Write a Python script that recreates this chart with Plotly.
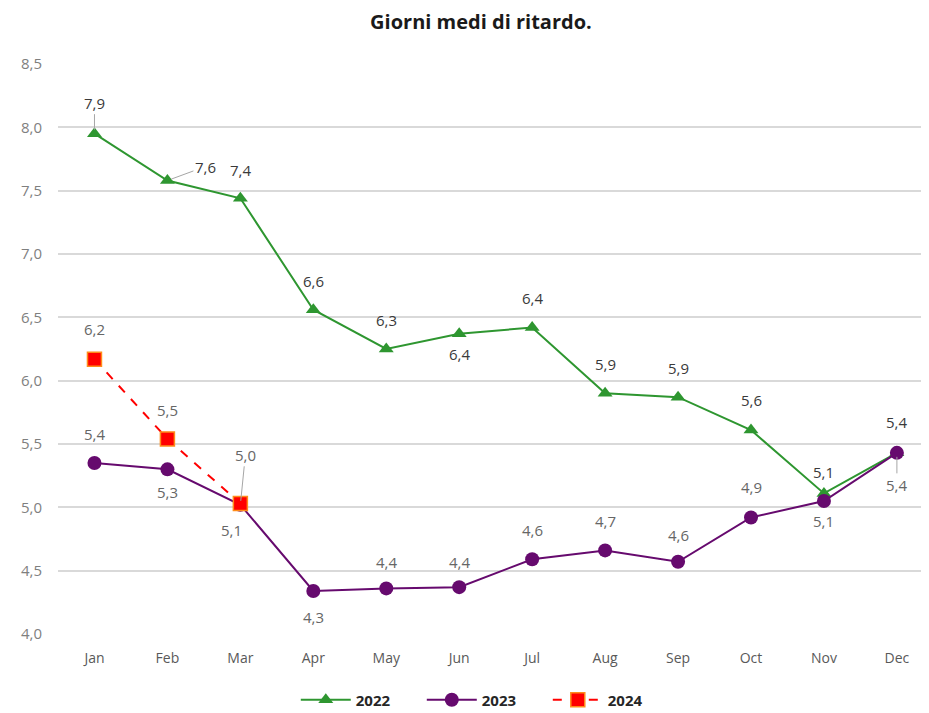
import plotly.graph_objects as go

months = ["Jan", "Feb", "Mar", "Apr", "May", "Jun", "Jul", "Aug", "Sep", "Oct", "Nov", "Dec"]
v2022 = [7.95, 7.58, 7.44, 6.56, 6.25, 6.37, 6.42, 5.90, 5.87, 5.61, 5.11, 5.43]
v2023 = [5.35, 5.30, 5.02, 4.34, 4.36, 4.37, 4.59, 4.66, 4.57, 4.92, 5.05, 5.43]
v2024 = [6.17, 5.54, 5.03]
lab2022 = ["7,9", "7,6", "7,4", "6,6", "6,3", "6,4", "6,4", "5,9", "5,9", "5,6", "5,1", "5,4"]
lab2023 = ["5,4", "5,3", "5,0", "4,3", "4,4", "4,4", "4,6", "4,7", "4,6", "4,9", "5,1", "5,4"]
lab2024 = ["6,2", "5,5", "5,1"]

# label placement (style): (xshift px, yshift px, leader line)
pos2022 = [(0, 31, True), (38, 14, True), (0, 28, False), (0, 29, False), (0, 29, False), (0, -20, False),
           (0, 29, False), (0, 29, False), (0, 29, False), (0, 30, False), (0, 21, False), (0, 31, False)]
pos2023 = [(0, 29, False), (0, -23, False), (5, 50, True), (0, -26, False), (0, 26, False), (0, 25, False),
           (0, 29, False), (0, 29, False), (0, 27, False), (0, 30, False), (0, -20, False), (0, -32, True)]
pos2024 = [(0, 30, False), (0, 29, False), (-9, -26, False)]

GREEN = "#2E9630"
PURPLE = "#660A6E"
RED = "#FF0000"
FONT = "Open Sans"

fig = go.Figure()
fig.add_trace(go.Scatter(x=months, y=v2022, name="2022", mode="lines+markers",
                         line=dict(color=GREEN, width=2),
                         marker=dict(symbol="triangle-up", size=13, color=GREEN)))
fig.add_trace(go.Scatter(x=months, y=v2023, name="2023", mode="lines+markers",
                         line=dict(color=PURPLE, width=2),
                         marker=dict(symbol="circle", size=14, color=PURPLE)))
fig.add_trace(go.Scatter(x=months[:len(v2024)], y=v2024, name="2024", mode="lines+markers",
                         line=dict(color=RED, width=2, dash="dash"),
                         marker=dict(symbol="square", size=14, color=RED,
                                     line=dict(color="#FF8C1A", width=1.5))))

annotations = []


def add_labels(vals, labels, positions, color):
    for m, v, t, (xs, ys, leader) in zip(months, vals, labels, positions):
        if leader:
            annotations.append(dict(x=m, y=v, xref="x", yref="y", text=t, showarrow=True,
                                    arrowhead=0, arrowwidth=1, arrowcolor="#A6A6A6",
                                    ax=xs, ay=-ys, standoff=4,
                                    font=dict(family=FONT, size=15, color=color)))
        else:
            annotations.append(dict(x=m, y=v, xref="x", yref="y", text=t, showarrow=False,
                                    xshift=xs, yshift=ys,
                                    font=dict(family=FONT, size=15, color=color)))


add_labels(v2022, lab2022, pos2022, "#3A3A3A")
add_labels(v2023, lab2023, pos2023, "#666666")
add_labels(v2024, lab2024, pos2024, "#666666")

fig.update_layout(
    width=921, height=705,
    margin=dict(l=50, r=0, t=56, b=79, autoexpand=False),
    paper_bgcolor="white", plot_bgcolor="white",
    separators=",.",
    font=dict(family=FONT),
    title=dict(text="<b>Giorni medi di ritardo.</b>", x=0.5135, xanchor="center",
               y=1 - 14 / 705, yanchor="middle", yref="container",
               font=dict(family=FONT, size=20, color="#1A1A1A")),
    annotations=annotations,
    showlegend=True,
    legend=dict(orientation="h", x=0.49, xanchor="center", y=-0.1158, yanchor="middle",
                font=dict(family=FONT, size=15, color="#262626", weight="bold"),
                entrywidth=61, entrywidthmode="pixels", itemwidth=50, tracegroupgap=0),
    xaxis=dict(range=[-0.5, 11.44], showgrid=False, showline=False, ticks="", zeroline=False,
               ticklabelstandoff=14, automargin=False,
               tickfont=dict(family=FONT, size=14, color="#595959")),
    yaxis=dict(range=[4, 8.5], dtick=0.5, tickformat=".1f", showgrid=True,
               gridcolor="#D9D9D9", gridwidth=1.5, zeroline=False, showline=False,
               ticks="", ticklabelstandoff=15, automargin=False,
               tickfont=dict(family=FONT, size=15, color="#7F7F7F")),
)

fig.write_html("out.html")
